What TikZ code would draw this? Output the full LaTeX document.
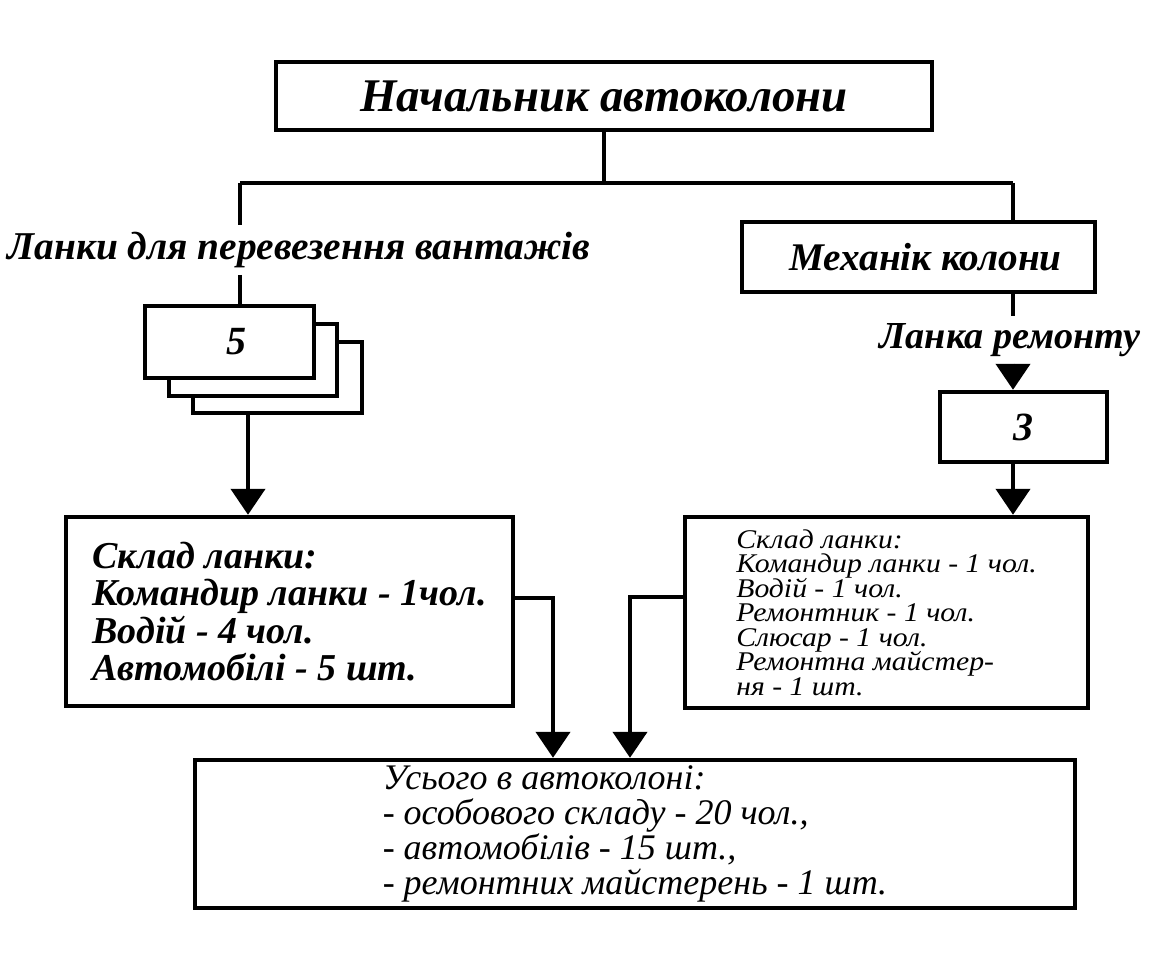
\documentclass[tikz,border=0pt]{standalone}
\usepackage{fontspec}
\setmainfont{Liberation Serif}
\newfontfamily\wideserif[FakeStretch=1.1]{Liberation Serif}
\newcommand\tightlines{\lineskiplimit=-100pt\relax}
\usetikzlibrary{arrows.meta}

\begin{document}
\begin{tikzpicture}[x=0.5pt,y=-0.5pt,
    blk/.style={draw,line width=2.2pt,fill=white,inner sep=0pt},
    bi/.style={font=\fontsize{#1}{#1}\selectfont\bfseries\itshape},
    ar/.style={-{Triangle[width=17pt,length=13pt]}}]
  \useasboundingbox (0,0) rectangle (1162,967);
  \draw
    (604,96) node[blk,minimum width=328pt,minimum height=34pt,bi=23.4] (chief){Начальник автоколони}
    (299,250) node[bi=19.7] (cargo){Ланки для перевезення вантажів}
    (918.5,257) node[blk,minimum width=176.5pt,minimum height=35pt,bi=19.6] (mech){\hspace*{7pt}Механік колони}
    (1010,340) node[bi=19.1] (repair){Ланка ремонту}
    (277.5,377.5) node[blk,minimum width=84.5pt,minimum height=35.5pt] (lnk5c){}
    (253,360) node[blk,minimum width=84pt,minimum height=36pt] (lnk5b){}
    (229.5,342) node[blk,minimum width=84.5pt,minimum height=36pt,bi=20] (lnk5){\hspace*{7pt}5}
    (1023.5,427) node[blk,minimum width=83.5pt,minimum height=35pt,bi=20] (rep3){3}
    (289.5,611.5) node[blk,minimum width=223.5pt,minimum height=94.5pt,align=left,
      font=\fontsize{19}{18.7}\selectfont\bfseries\itshape\tightlines] (cargoset){Склад ланки:\\Командир ланки - 1чол.\\Водій - 4 чол.\\Автомобілі - 5 шт.}
    (886.5,612.5) node[blk,minimum width=201.5pt,minimum height=95.5pt,align=left,
      font=\wideserif\fontsize{13.5}{12.25}\selectfont\itshape\tightlines] (repset){Склад ланки:\\Командир ланки - 1 чол.\\Водій - 1 чол.\\Ремонтник - 1 чол.\\Слюсар - 1 чол.\\Ремонтна майстер-\\ня - 1 шт.}
    (635,834) node[blk,minimum width=440pt,minimum height=74pt,align=left,
      font=\fontsize{18}{17.5}\selectfont\itshape\tightlines] (total){Усього в автоколоні:\\- особового складу - 20 чол.,\\- автомобілів - 15 шт.,\\- ремонтних майстерень - 1 шт.};
  \coordinate (jt) at (604,183);
  \coordinate (jl) at (240,183);
  \coordinate (jr) at (1013,183);
  \coordinate (jd) at (248,413);
  \coordinate (lo) at (553,598);
  \coordinate (ro) at (630,597);
  \begin{scope}[line width=2.2pt]
    \draw (chief) to (jt);
    \draw (jl) to (jr);
    \draw (jl) to (jl |- cargo.north);
    \draw (cargo.south -| jl) to (jl |- lnk5.north);
    \draw (jr) to (jr |- mech.north);
    \draw (mech.south -| jr) to (jr |- repair.north);
    \draw[ar] (repair.south -| jr) to (jr |- rep3.north);
    \draw[ar] (rep3.south -| jr) to (jr |- repset.north);
    \draw[ar] (jd) to (jd |- cargoset.north);
    \draw[ar] (cargoset.east |- lo) -- (lo) -- (lo |- total.north);
    \draw[ar] (repset.west |- ro) -- (ro) -- (ro |- total.north);
  \end{scope}
\end{tikzpicture}
\end{document}
